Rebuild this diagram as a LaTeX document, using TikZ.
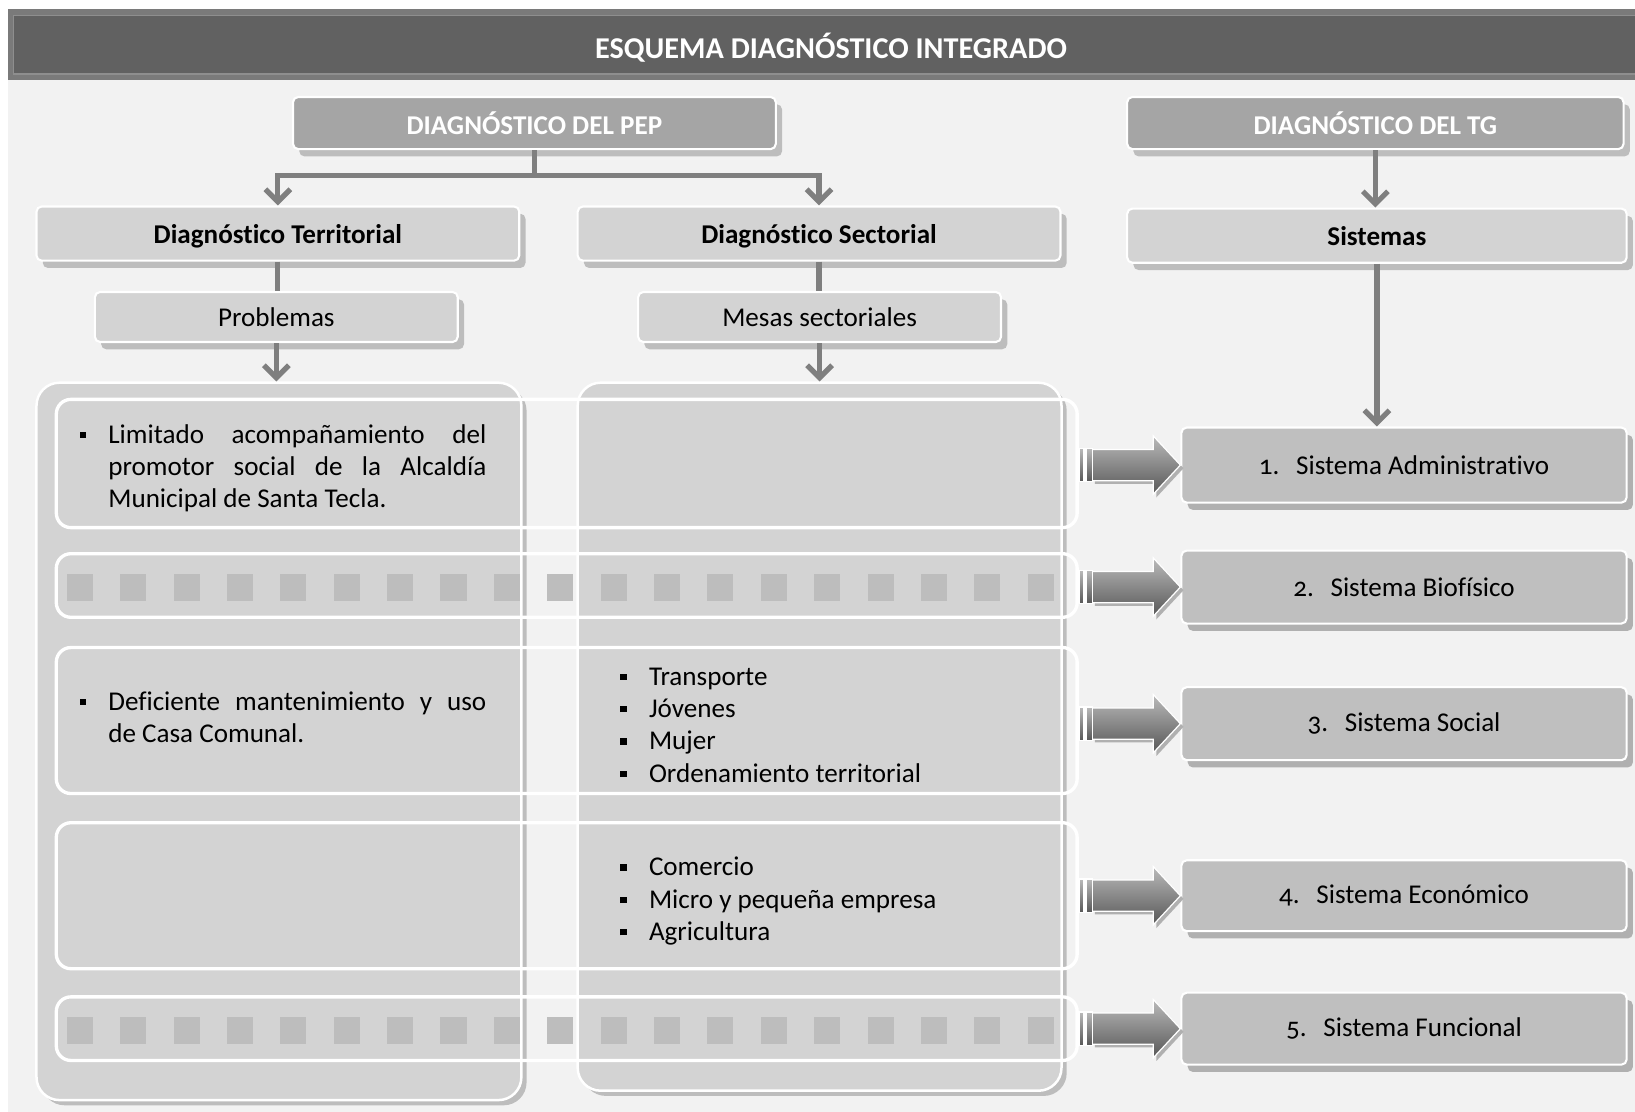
\documentclass[tikz,border=0pt]{standalone}
\usepackage{fontspec}
\setmainfont{Carlito}[Ligatures=NoCommon]
\usetikzlibrary{arrows.meta,calc,fit,shadows}
\definecolor{bgl}{HTML}{F2F2F2}
\definecolor{ttlout}{HTML}{7A7A7A}
\definecolor{ttlin}{HTML}{616161}
\definecolor{ttlline}{HTML}{8E8E8E}
\definecolor{hdr}{HTML}{A5A5A5}
\definecolor{lvl}{HTML}{D3D3D3}
\definecolor{sys}{HTML}{BFBFBF}
\definecolor{shd}{HTML}{BDBDBD}
\definecolor{shdb}{HTML}{B0B0B0}
\definecolor{lin}{HTML}{7F7F7F}
\definecolor{sqc}{HTML}{BDBDBD}
\newcommand{\bul}{\raisebox{2.5pt}{\rule{3pt}{3pt}}}
\newcommand{\onum}[1]{{\addfontfeatures{Numbers=OldStyle}#1}}
\newcommand{\blockarrowpath}[2]{%
  \path[#2] ($(#1)+(-85,-15)$) -- ($(#1)+(-26,-15)$) -- ($(#1)+(-26,-28)$) -- (#1)
    -- ($(#1)+(-26,28)$) -- ($(#1)+(-26,15)$) -- ($(#1)+(-85,15)$) -- cycle;}
\tikzset{
  box/.style={draw=white, line width=1pt, rounded corners=2.5pt, inner sep=0pt},
  hdrbox/.style={box, fill=hdr,
    drop shadow={shadow xshift=3pt, shadow yshift=-3.5pt, fill=shd, opacity=1}},
  lvlbox/.style={box, fill=lvl,
    drop shadow={shadow xshift=3pt, shadow yshift=-3.5pt, fill=shd, opacity=1}},
  sysbox/.style={box, fill=sys,
    drop shadow={shadow xshift=3pt, shadow yshift=-3.5pt, fill=shdb, opacity=1}},
  panel/.style={draw=white, line width=1.2pt, fill=lvl, rounded corners=11pt, inner sep=0pt,
    drop shadow={shadow xshift=2.5pt, shadow yshift=-2.5pt, fill=shd, opacity=1}},
  rowframe/.style={draw=white, line width=1.6pt, rounded corners=7pt, inner sep=0pt},
  conn/.style={draw=lin, line width=2.5pt},
  tipd/.style={-{Straight Barb[length=6pt,width=12pt]}},
  listtext/.style={anchor=base west, inner sep=0pt, align=left},
  justtext/.style={anchor=base west, inner sep=0pt, text width=181.25pt, align=justify},
  ashade/.style={top color=black!27, bottom color=black!66, draw=white, line width=0.6pt},
  hdrlab/.style={text=white, inner sep=0pt, font=\fontsize{13pt}{15.5pt}\selectfont\bfseries},
  boldlab/.style={inner sep=0pt, font=\fontsize{13pt}{15.5pt}\selectfont\bfseries},
  plainlab/.style={inner sep=0pt, font=\fontsize{13pt}{15.5pt}\selectfont}
}
\begin{document}
\begin{tikzpicture}[x=0.5pt,y=-0.5pt, font=\fontsize{13pt}{15.5pt}\selectfont]
\useasboundingbox (0,0) rectangle (1568,1066);
\fill[white] (0,0) rectangle (1568,1066);
\fill[bgl] (8,77) rectangle (1568,1066);
% title bar
\fill[ttlout] (8,9) rectangle (1568,77);
\fill[ttlin, draw=ttlline, line width=0.8pt] (13,15) rectangle (1575,71);
\node[text=white, font=\fontsize{14.5pt}{16pt}\selectfont\bfseries] (title) at (797,46) {ESQUEMA DIAGNÓSTICO INTEGRADO};

% headers
\node[hdrbox, fit={(281,93)(744,143)}, label={[hdrlab]center:DIAGNÓSTICO DEL PEP}] (pep) {};
\node[hdrbox, fit={(1081,93)(1557,143)}, label={[hdrlab]center:DIAGNÓSTICO DEL TG}] (tg) {};

% level boxes
\node[lvlbox, fit={(35,198)(498,250)}, label={[boldlab, yshift=-1.5pt]center:Diagnóstico Territorial}] (terr) {};
\node[lvlbox, fit={(554,198)(1017,250)}, label={[boldlab, yshift=-1.5pt]center:Diagnóstico Sectorial}] (sect) {};
\node[lvlbox, fit={(1081,200)(1560,252)}, label={[boldlab]center:Sistemas}] (sist) {};
\node[lvlbox, fit={(91,280)(439,328)}, label={[plainlab]center:Problemas}] (prob) {};
\node[lvlbox, fit={(612,280)(960,328)}, label={[plainlab]center:Mesas sectoriales}] (mesas) {};

% panels
\node[panel, fit={(35,367)(500,1055)}] (lp) {};
\node[panel, fit={(554,367)(1018,1046)}] (rp) {};

% connectors
\draw[conn, tipd] (pep.south) -- ++(0,24) -| (terr.north);
\draw[conn, tipd] (pep.south) -- ++(0,24) -| (sect.north);
\draw[conn] (terr.south) -- (terr.south |- prob.north);
\draw[conn] (sect.south) -- (sect.south |- mesas.north);
\draw[conn, tipd] (prob.south) -- (prob.south |- lp.north);
\draw[conn, tipd] (mesas.south) -- (mesas.south |- rp.north);
\draw[conn, tipd] (tg.south) -- (tg.south |- sist.north);

% system boxes
\node[sysbox, fit={(1133,410)(1560,482)}, label={[plainlab]center:\onum{1.}\hspace{8pt}Sistema Administrativo}] (s1) {};
\node[sysbox, fit={(1133,528)(1560,598)}, label={[plainlab]center:\onum{2.}\hspace{8pt}Sistema Biofísico}] (s2) {};
\node[sysbox, fit={(1133,659)(1560,729)}, label={[plainlab]center:\onum{3.}\hspace{8pt}Sistema Social}] (s3) {};
\node[sysbox, fit={(1133,825)(1560,893)}, label={[plainlab]center:\onum{4.}\hspace{8pt}Sistema Económico}] (s4) {};
\node[sysbox, fit={(1133,952)(1560,1021)}, label={[plainlab]center:\onum{5.}\hspace{8pt}Sistema Funcional}] (s5) {};
\draw[conn, tipd] (sist.south) -- (sist.south |- s1.north);

% squares rows
\foreach \k in {0,...,18}{
  \fill[sqc] (64+51.2*\k,550) rectangle ++(25,26);
  \fill[sqc] (64+51.2*\k,975) rectangle ++(25,26);
}

% row frames
\node[rowframe, fit={(54,383)(1033,506)}] (r1) {};
\node[rowframe, fit={(54,531)(1033,592)}] (r2) {};
\node[rowframe, fit={(54,621)(1033,761)}] (r3) {};
\node[rowframe, fit={(54,789)(1033,929)}] (r4) {};
\node[rowframe, fit={(54,956)(1033,1017)}] (r5) {};

% texts
\node[justtext] (t1) at (103.5,425) {\llap{\makebox[13.5pt][l]{\bul}}Limitado acompañamiento del\linebreak promotor social de la Alcaldía\linebreak Municipal de Santa Tecla.};
\node[justtext] (t3) at (103.5,681) {\llap{\makebox[13.5pt][l]{\bul}}Deficiente mantenimiento y uso\linebreak de Casa Comunal.};
\node[listtext] (l3) at (594.5,750) {\makebox[13.75pt][l]{\bul}Transporte\\\makebox[13.75pt][l]{\bul}Jóvenes\\\makebox[13.75pt][l]{\bul}Mujer\\\makebox[13.75pt][l]{\bul}Ordenamiento territorial};
\node[listtext] (l4) at (594.5,902) {\makebox[13.75pt][l]{\bul}Comercio\\\makebox[13.75pt][l]{\bul}Micro y pequeña empresa\\\makebox[13.75pt][l]{\bul}Agricultura};

% block arrows
\foreach \i in {1,...,5}{
  \blockarrowpath{s\i.west}{fill=shdb, transform canvas={xshift=1.5pt,yshift=-1.5pt}}
  \blockarrowpath{s\i.west}{ashade}
  \shade[ashade] ($(r\i.east |- s\i.west)+(1,-16)$) rectangle ($(r\i.east |- s\i.west)+(5,16)$);
  \shade[ashade] ($(r\i.east |- s\i.west)+(7,-16)$) rectangle ($(r\i.east |- s\i.west)+(13,16)$);
}
\end{tikzpicture}
\end{document}
